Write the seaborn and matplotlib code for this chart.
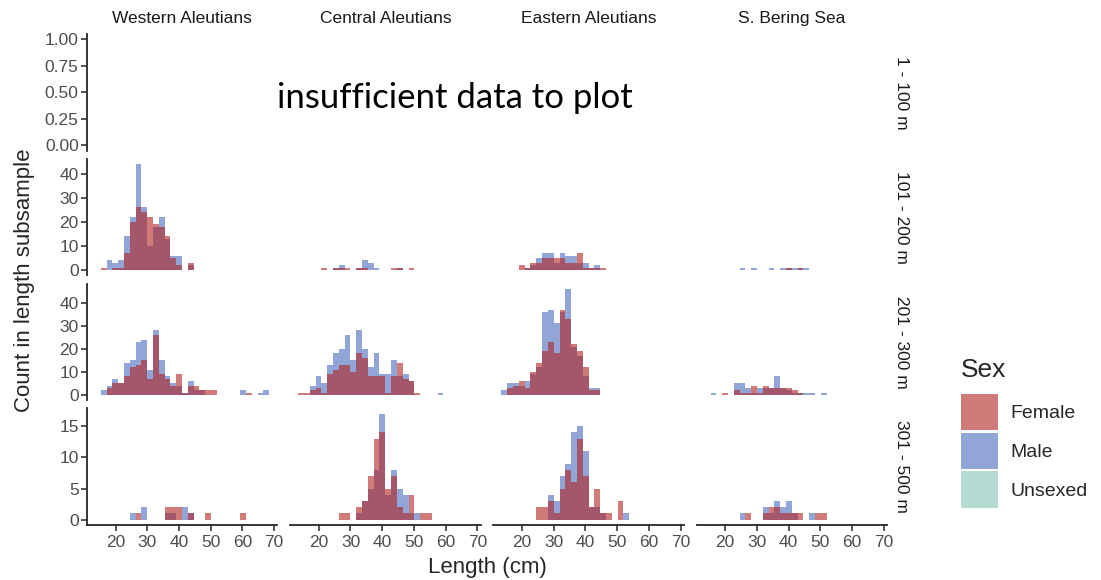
import seaborn as sns
import matplotlib.pyplot as plt
from matplotlib.patches import Patch
import numpy as np
import pandas as pd

# regions (columns) and depth strata (rows)
regions = ["Western Aleutians", "Central Aleutians", "Eastern Aleutians", "S. Bering Sea"]
depths = ["1 - 100 m", "101 - 200 m", "201 - 300 m", "301 - 500 m"]

# 30 length bins (cm), counts per bin
bin_start = 13.52
bin_width = 1.83
n_bins = 30

# 101 - 200 m
wa200_f = [0,1,0,1,1,7,20,26,24,22,19,18,14,5,2,0,3,0,0,0,0,0,0,0,0,0,0,0,0,0]
wa200_m = [0,0,4,3,4,14,22,44,26,10,18,22,13,6,6,0,2,0,0,0,0,0,0,0,0,0,0,0,0,0]
ca200_f = [0,0,0,0,1,0,1,1,1,0,1,1,0,0,0,0,1,1,0,1,0,0,0,0,0,0,0,0,0,0]
ca200_m = [0,0,0,0,0,0,1,2,0,0,1,4,3,1,0,0,0,1,0,0,0,0,0,0,0,0,0,0,0,0]
ea200_f = [0,0,0,2,1,3,3,5,5,5,5,3,3,7,1,1,1,1,0,0,0,0,0,0,0,0,0,0,0,0]
ea200_m = [0,0,0,0,1,2,5,7,7,3,7,6,6,3,3,1,2,0,0,0,0,0,0,0,0,0,0,0,0,0]
sb200_f = [0,0,0,0,0,0,0,0,0,0,0,0,0,0,1,0,1,0,0,0,0,0,0,0,0,0,0,0,0,0]
sb200_m = [0,0,0,0,0,0,1,0,1,0,0,1,0,1,1,1,1,1,0,0,0,0,0,0,0,0,0,0,0,0]

# 201 - 300 m
wa300_f = [0,0,3,5,5,8,12,13,15,7,26,9,7,4,9,1,4,4,2,2,2,0,0,0,0,0,1,0,0,0]
wa300_m = [0,2,4,7,5,14,15,23,24,11,28,15,8,5,4,1,6,2,2,0,0,0,0,0,0,2,0,0,1,2]
ca300_f = [1,1,2,3,1,9,11,13,13,10,18,16,8,8,8,1,8,14,7,6,1,0,0,0,0,0,0,0,0,0]
ca300_m = [0,0,4,8,5,13,18,20,26,15,28,20,12,18,9,9,15,8,9,6,0,0,0,0,1,0,0,0,0,0]
ea300_f = [0,3,4,6,3,10,14,19,23,18,37,33,22,19,12,2,2,0,0,0,0,0,0,0,0,0,0,0,0,0]
ea300_m = [2,5,5,4,6,9,12,36,37,31,36,46,21,17,8,3,3,0,0,0,0,0,0,0,0,0,0,0,0,0]
sb300_f = [0,0,0,1,0,2,1,1,4,1,4,3,3,3,3,2,1,0,0,0,0,0,0,0,0,0,0,0,0,0]
sb300_m = [0,1,0,0,0,5,5,3,1,3,3,3,8,3,2,1,1,1,1,0,1,0,0,0,0,0,0,0,0,0]

# 301 - 500 m
wa500_f = [0,0,0,0,0,0,0,1,0,0,0,0,2,2,2,0,1,0,0,1,0,0,0,0,0,1,0,0,0,0]
wa500_m = [0,0,0,0,0,0,1,0,2,0,0,0,1,1,0,2,1,0,0,0,0,0,0,0,0,0,0,0,0,0]
ca500_f = [0,0,0,0,0,0,0,1,1,0,2,3,7,13,14,5,7,2,1,4,0,1,1,0,0,0,0,0,0,0]
ca500_m = [0,0,0,0,0,0,0,0,0,0,1,3,5,8,17,4,8,5,4,1,1,0,0,0,0,0,0,0,0,0]
ea500_f = [0,0,0,0,0,0,2,2,3,1,5,8,6,13,7,2,5,1,1,0,3,0,0,0,0,0,0,0,0,0]
ea500_m = [0,0,0,0,0,0,0,0,4,3,7,9,14,15,11,2,2,1,0,0,0,1,0,0,0,0,0,0,0,0]
sb500_f = [0,0,0,0,0,0,0,1,0,0,1,2,2,1,1,1,1,0,0,1,1,0,0,0,0,0,0,0,0,0]
sb500_m = [0,0,0,0,0,0,1,0,0,0,2,1,3,2,3,1,0,0,1,0,0,0,0,0,0,0,0,0,0,0]

counts = {
    ("101 - 200 m", "Western Aleutians"): (wa200_f, wa200_m),
    ("101 - 200 m", "Central Aleutians"): (ca200_f, ca200_m),
    ("101 - 200 m", "Eastern Aleutians"): (ea200_f, ea200_m),
    ("101 - 200 m", "S. Bering Sea"): (sb200_f, sb200_m),
    ("201 - 300 m", "Western Aleutians"): (wa300_f, wa300_m),
    ("201 - 300 m", "Central Aleutians"): (ca300_f, ca300_m),
    ("201 - 300 m", "Eastern Aleutians"): (ea300_f, ea300_m),
    ("201 - 300 m", "S. Bering Sea"): (sb300_f, sb300_m),
    ("301 - 500 m", "Western Aleutians"): (wa500_f, wa500_m),
    ("301 - 500 m", "Central Aleutians"): (ca500_f, ca500_m),
    ("301 - 500 m", "Eastern Aleutians"): (ea500_f, ea500_m),
    ("301 - 500 m", "S. Bering Sea"): (sb500_f, sb500_m),
}

bin_end = bin_start + bin_width * n_bins
mids = bin_start + bin_width * (np.arange(n_bins) + 0.5)

rows = []
for (dep, reg), (fem, mal) in counts.items():
    for sex, vals in (("Female", fem), ("Male", mal)):
        for m, n in zip(mids, vals):
            if n > 0:
                rows.append((dep, reg, sex, m, n))
df = pd.DataFrame(rows, columns=["depth", "region", "sex", "length", "n"])

sex_colors = {"Female": "#B22222", "Male": "#4869BC", "Unsexed": "#82C5B4"}
y_ticks = [[0, 0.25, 0.5, 0.75, 1.0], [0, 10, 20, 30, 40], [0, 10, 20, 30, 40], [0, 5, 10, 15]]
y_lims = [(-0.05, 1.05), (-2.2, 46.2), (-2.3, 48.3), (-0.85, 17.85)]

sns.set_style("ticks")
plt.rcParams["font.family"] = ["Liberation Sans", "DejaVu Sans"]

fig, axes = plt.subplots(4, 4, figsize=(11.01, 5.80), dpi=100, sharex=True, sharey="row")
fig.subplots_adjust(left=87/1101, right=887/1101, top=1-34/580, bottom=1-525/580,
                    wspace=0.068, hspace=0.07)

for r, dep in enumerate(depths):
    for c, reg in enumerate(regions):
        ax = axes[r, c]
        for sex in ["Male", "Female"]:
            sub = df[(df.depth == dep) & (df.region == reg) & (df.sex == sex)]
            if len(sub):
                sns.histplot(data=sub, x="length", weights="n", binwidth=bin_width,
                             binrange=(bin_start, bin_end),
                             color=sex_colors[sex], alpha=0.6, edgecolor="none",
                             linewidth=0, ax=ax)
        ax.set_xlabel("")
        ax.set_ylabel("")
        ax.set_xlim(11.0, 71.0)
        ax.set_ylim(*y_lims[r])
        ax.set_yticks(y_ticks[r])
        ax.set_xticks([20, 30, 40, 50, 60, 70])
        for s in ax.spines.values():
            s.set_visible(False)
        if c == 0:
            ax.spines["left"].set_visible(True)
            ax.spines["left"].set_linewidth(1.3)
            ax.tick_params(axis="y", length=4, width=1.1, labelsize=12.5,
                           labelcolor="#4d4d4d", labelleft=True, pad=2)
        else:
            ax.tick_params(axis="y", length=0, labelleft=False)
        if r == 3:
            ax.spines["bottom"].set_visible(True)
            ax.spines["bottom"].set_linewidth(1.3)
            ax.tick_params(axis="x", length=4, width=1.1, labelsize=12.5,
                           labelcolor="#4d4d4d", labelbottom=True, pad=3)
        else:
            ax.tick_params(axis="x", length=0, labelbottom=False)
        if r == 0:
            ax.set_title(reg, fontsize=12.5, color="#1a1a1a", pad=8)
        if c == 3:
            ax.text(1.075, 0.5, dep, transform=ax.transAxes, rotation=-90,
                    ha="center", va="center", fontsize=12.5, color="#1a1a1a")

axes[0, 0].yaxis.set_major_formatter(plt.FormatStrFormatter("%.2f"))

fig.text(455/1101, 1-98/580, "insufficient data to plot", ha="center", va="center",
         fontsize=25, family=["Lato", "DejaVu Sans"], color="black")

fig.text(487/1101, 1-567/580, "Length (cm)", ha="center", va="center", fontsize=16)
fig.text(25/1101, 1-280/580, "Count in length subsample", ha="center", va="center",
         rotation=90, fontsize=16)

# legend: title as separate text so the gap under it matches
fig.text(961/1101, 1-370/580, "Sex", ha="left", va="center", fontsize=19)
handles = [Patch(facecolor=sex_colors[s], alpha=0.6, edgecolor="none") for s in ["Female", "Male", "Unsexed"]]
leg = fig.legend(handles, ["Female", "Male", "Unsexed"], loc="upper left",
                 bbox_to_anchor=(949/1101, 1-382/580), frameon=False, fontsize=14,
                 handlelength=1.9, handleheight=2.5,
                 labelspacing=0.13, handletextpad=0.65, borderaxespad=0.2)

fig.savefig("out.png", dpi=100)
